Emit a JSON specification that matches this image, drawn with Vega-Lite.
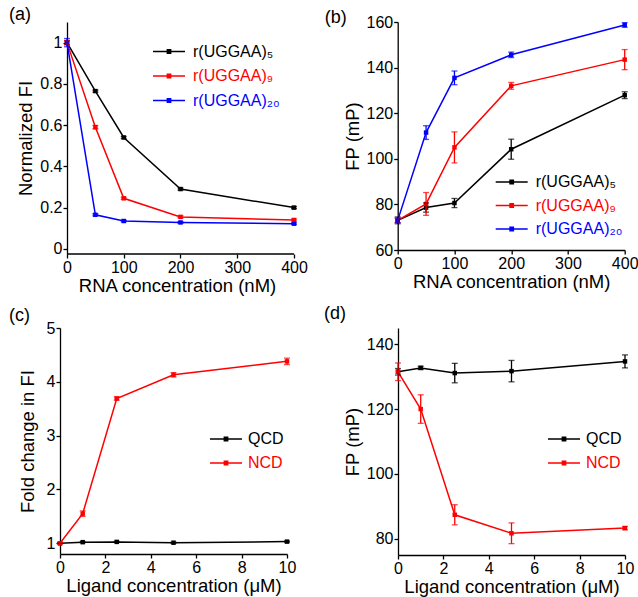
{
  "$schema": "https://vega.github.io/schema/vega-lite/v6.json",
  "padding": {"left": 9, "top": 5, "right": 5, "bottom": 5},
  "background": "white",
  "config": {
    "font": "Liberation Sans",
    "view": {"stroke": null},
    "axis": {
      "grid": false, "domainColor": "black", "domainWidth": 1.3, "tickColor": "black",
      "tickSize": 4, "tickWidth": 1.3, "labelPadding": 1, "labelFontSize": 16, "labelColor": "black",
      "labelFlush": false, "labelOverlap": false,
      "labelFont": "Liberation Sans", "titleFont": "Liberation Sans", "titleFontSize": 18.5,
      "titleFontWeight": "normal", "titleColor": "black"
    },
    "title": {"fontSize": 18, "fontWeight": "normal", "font": "Liberation Sans", "anchor": "start", "frame": "group", "color": "black"},
    "legend": {"labelFontSize": 16, "labelFont": "Liberation Sans", "padding": 0, "rowPadding": 8.5, "labelOffset": 17, "symbolSize": 64, "symbolStrokeWidth": 0,
      "symbolType": "M-4,-0.17H4V0.17H-4Z M-0.6,-0.6H0.6V0.6H-0.6Z"}
  },
  "datasets": {
    "a": [
      {"x": 0, "v": 1, "e": 0.01, "s": "r(UGGAA)₅"},
      {"x": 50, "v": 0.765, "e": 0.005, "s": "r(UGGAA)₅"},
      {"x": 100, "v": 0.54, "e": 0.005, "s": "r(UGGAA)₅"},
      {"x": 200, "v": 0.29, "e": 0.005, "s": "r(UGGAA)₅"},
      {"x": 400, "v": 0.2, "e": 0.005, "s": "r(UGGAA)₅"},
      {"x": 0, "v": 1, "e": 0.01, "s": "r(UGGAA)₉"},
      {"x": 50, "v": 0.59, "e": 0.008, "s": "r(UGGAA)₉"},
      {"x": 100, "v": 0.245, "e": 0.005, "s": "r(UGGAA)₉"},
      {"x": 200, "v": 0.155, "e": 0.005, "s": "r(UGGAA)₉"},
      {"x": 400, "v": 0.14, "e": 0.005, "s": "r(UGGAA)₉"},
      {"x": 0, "v": 1, "e": 0.02, "s": "r(UGGAA)₂₀"},
      {"x": 50, "v": 0.165, "e": 0.005, "s": "r(UGGAA)₂₀"},
      {"x": 100, "v": 0.135, "e": 0.004, "s": "r(UGGAA)₂₀"},
      {"x": 200, "v": 0.128, "e": 0.004, "s": "r(UGGAA)₂₀"},
      {"x": 400, "v": 0.122, "e": 0.004, "s": "r(UGGAA)₂₀"}
    ],
    "b": [
      {"x": 0, "v": 73, "e": 1.5, "s": "r(UGGAA)₅"},
      {"x": 50, "v": 78.6, "e": 2, "s": "r(UGGAA)₅"},
      {"x": 100, "v": 80.6, "e": 2, "s": "r(UGGAA)₅"},
      {"x": 200, "v": 104.2, "e": 4.4, "s": "r(UGGAA)₅"},
      {"x": 400, "v": 127.9, "e": 1.5, "s": "r(UGGAA)₅"},
      {"x": 0, "v": 73, "e": 1, "s": "r(UGGAA)₉"},
      {"x": 50, "v": 80.2, "e": 5, "s": "r(UGGAA)₉"},
      {"x": 100, "v": 105, "e": 6.8, "s": "r(UGGAA)₉"},
      {"x": 200, "v": 132, "e": 1.5, "s": "r(UGGAA)₉"},
      {"x": 400, "v": 143.5, "e": 4.4, "s": "r(UGGAA)₉"},
      {"x": 0, "v": 73, "e": 1, "s": "r(UGGAA)₂₀"},
      {"x": 50, "v": 111.5, "e": 3, "s": "r(UGGAA)₂₀"},
      {"x": 100, "v": 135.5, "e": 3, "s": "r(UGGAA)₂₀"},
      {"x": 200, "v": 145.6, "e": 1.2, "s": "r(UGGAA)₂₀"},
      {"x": 400, "v": 158.7, "e": 1, "s": "r(UGGAA)₂₀"}
    ],
    "c": [
      {"x": 0, "v": 1, "e": 0.005, "s": "QCD"},
      {"x": 1, "v": 1.02, "e": 0.01, "s": "QCD"},
      {"x": 2.5, "v": 1.025, "e": 0.01, "s": "QCD"},
      {"x": 5, "v": 1.01, "e": 0.01, "s": "QCD"},
      {"x": 10, "v": 1.03, "e": 0.01, "s": "QCD"},
      {"x": 0, "v": 1, "e": 0.01, "s": "NCD"},
      {"x": 1, "v": 1.55, "e": 0.05, "s": "NCD"},
      {"x": 2.5, "v": 3.69, "e": 0.03, "s": "NCD"},
      {"x": 5, "v": 4.13, "e": 0.04, "s": "NCD"},
      {"x": 10, "v": 4.38, "e": 0.06, "s": "NCD"}
    ],
    "d": [
      {"x": 0, "v": 131.5, "e": 1, "s": "QCD"},
      {"x": 1, "v": 132.7, "e": 0.5, "s": "QCD"},
      {"x": 2.5, "v": 131.1, "e": 3, "s": "QCD"},
      {"x": 5, "v": 131.7, "e": 3.3, "s": "QCD"},
      {"x": 10, "v": 134.7, "e": 2, "s": "QCD"},
      {"x": 0, "v": 131.5, "e": 2.7, "s": "NCD"},
      {"x": 1, "v": 120, "e": 4.4, "s": "NCD"},
      {"x": 2.5, "v": 87.4, "e": 3.1, "s": "NCD"},
      {"x": 5, "v": 81.7, "e": 3.2, "s": "NCD"},
      {"x": 10, "v": 83.3, "e": 0.5, "s": "NCD"}
    ]
  },
  "vconcat": [
    {
      "hconcat": [
        {
          "width": 234, "height": 232,
          "title": {"text": "(a)", "dx": -51, "offset": -1.5},
          "layer": [
            {
              "data": {"name": "a"},
              "encoding": {
                "x": {"field": "x", "type": "quantitative", "scale": {"domain": [-12.33, 400], "nice": false, "zero": false}, "axis": {"values": [0, 100, 200, 300, 400], "title": "RNA concentration (nM)", "titlePadding": 1, "domain": false}},
                "y": {"field": "v", "type": "quantitative", "scale": {"domain": [-0.025, 1.1], "nice": false, "zero": false}, "axis": {"values": [0, 0.2, 0.4, 0.6, 0.8, 1], "format": "~g", "title": "Normalized FI", "titlePadding": 4, "offset": -7}},
                "color": {"field": "s", "type": "nominal", "scale": {"domain": ["r(UGGAA)₅", "r(UGGAA)₉", "r(UGGAA)₂₀"], "range": ["#000000", "#ff0000", "#0000ff"]},
                  "legend": {"orient": "none", "legendX": 101, "legendY": 21.5, "title": null, "labelOffset": 16,
                    "encode": {
                      "labels": {"update": {"fill": [{"test": "indexof(datum.label,'₂₀')>=0", "value": "#0000ff"}, {"test": "indexof(datum.label,'₉')>=0", "value": "#ff0000"}, {"value": "#000000"}]}},
                      "symbols": {"update": {"fill": [{"test": "indexof(datum.label,'₂₀')>=0", "value": "#0000ff"}, {"test": "indexof(datum.label,'₉')>=0", "value": "#ff0000"}, {"value": "#000000"}], "stroke": {"value": "transparent"}}}
                    }}}
              },
              "layer": [
                {"mark": {"type": "line", "strokeWidth": 1.5}},
                {"mark": {"type": "point", "shape": "square", "filled": true, "size": 20, "opacity": 1}},
                {"mark": {"type": "errorbar", "ticks": {"size": 6}, "thickness": 1.3}, "encoding": {"yError": {"field": "e"}}}
              ]
            },
            {
              "data": {"values": [{"axis": "x"}]},
              "mark": {"type": "rule", "color": "black", "strokeWidth": 1.3},
              "encoding": {"x": {"datum": 0}, "x2": {"datum": 400}, "y": {"datum": -0.025}}
            }
          ]
        },
        {
          "width": 227, "height": 228,
          "title": {"text": "(b)", "dx": -73, "offset": -12.5},
          "data": {"name": "b"},
          "encoding": {
            "x": {"field": "x", "type": "quantitative", "scale": {"domain": [0, 400], "nice": false}, "axis": {"values": [0, 100, 200, 300, 400], "title": "RNA concentration (nM)", "titlePadding": 1}},
            "y": {"field": "v", "type": "quantitative", "scale": {"domain": [60, 160], "nice": false, "zero": false}, "axis": {"values": [60, 80, 100, 120, 140, 160], "title": "FP (mP)", "titlePadding": 4}},
            "color": {"field": "s", "type": "nominal", "scale": {"domain": ["r(UGGAA)₅", "r(UGGAA)₉", "r(UGGAA)₂₀"], "range": ["#000000", "#ff0000", "#0000ff"]},
              "legend": {"orient": "none", "legendX": 106, "legendY": 152, "title": null, "rowPadding": 7.5, "labelOffset": 16,
                "encode": {
                  "labels": {"update": {"fill": [{"test": "indexof(datum.label,'₂₀')>=0", "value": "#0000ff"}, {"test": "indexof(datum.label,'₉')>=0", "value": "#ff0000"}, {"value": "#000000"}]}},
                  "symbols": {"update": {"fill": [{"test": "indexof(datum.label,'₂₀')>=0", "value": "#0000ff"}, {"test": "indexof(datum.label,'₉')>=0", "value": "#ff0000"}, {"value": "#000000"}], "stroke": {"value": "transparent"}}}
                }}}
          },
          "layer": [
            {"mark": {"type": "line", "strokeWidth": 1.5}},
            {"mark": {"type": "point", "shape": "square", "filled": true, "size": 20, "opacity": 1}},
            {"mark": {"type": "errorbar", "ticks": {"size": 6}, "thickness": 1.3}, "encoding": {"yError": {"field": "e"}}}
          ]
        }
      ],
      "spacing": 16.7,
      "resolve": {"scale": {"color": "independent"}, "legend": {"color": "independent"}}
    },
    {
      "hconcat": [
        {
          "width": 227, "height": 226,
          "title": {"text": "(c)", "dx": -51, "offset": -5},
          "data": {"name": "c"},
          "encoding": {
            "x": {"field": "x", "type": "quantitative", "scale": {"domain": [0, 10], "nice": false}, "axis": {"values": [0, 2, 4, 6, 8, 10], "title": "Ligand concentration (μM)", "titlePadding": 1}},
            "y": {"field": "v", "type": "quantitative", "scale": {"domain": [0.8, 5], "nice": false, "zero": false}, "axis": {"values": [1, 2, 3, 4, 5], "title": "Fold change in FI", "titlePadding": 9}},
            "color": {"field": "s", "type": "nominal", "scale": {"domain": ["QCD", "NCD"], "range": ["#000000", "#ff0000"]},
              "legend": {"orient": "none", "legendX": 158, "legendY": 103, "title": null, "labelOffset": 14, "rowPadding": 8,
                "encode": {
                  "labels": {"update": {"fill": [{"test": "datum.label==='NCD'", "value": "#ff0000"}, {"value": "#000000"}]}},
                  "symbols": {"update": {"fill": [{"test": "datum.label==='NCD'", "value": "#ff0000"}, {"value": "#000000"}], "stroke": {"value": "transparent"}}}
                }}}
          },
          "layer": [
            {"mark": {"type": "line", "strokeWidth": 1.5}},
            {"mark": {"type": "point", "shape": "square", "filled": true, "size": 20, "opacity": 1}},
            {"mark": {"type": "errorbar", "ticks": {"size": 6}, "thickness": 1.3}, "encoding": {"yError": {"field": "e"}}}
          ]
        },
        {
          "width": 227, "height": 227,
          "title": {"text": "(d)", "dx": -74, "offset": 5},
          "data": {"name": "d"},
          "encoding": {
            "x": {"field": "x", "type": "quantitative", "scale": {"domain": [0, 10], "nice": false}, "axis": {"values": [0, 2, 4, 6, 8, 10], "title": "Ligand concentration (μM)", "titlePadding": 1}},
            "y": {"field": "v", "type": "quantitative", "scale": {"domain": [75, 145], "nice": false, "zero": false}, "axis": {"values": [80, 100, 120, 140], "title": "FP (mP)", "titlePadding": 4}},
            "color": {"field": "s", "type": "nominal", "scale": {"domain": ["QCD", "NCD"], "range": ["#000000", "#ff0000"]},
              "legend": {"orient": "none", "legendX": 158, "legendY": 103, "title": null, "labelOffset": 14, "rowPadding": 8,
                "encode": {
                  "labels": {"update": {"fill": [{"test": "datum.label==='NCD'", "value": "#ff0000"}, {"value": "#000000"}]}},
                  "symbols": {"update": {"fill": [{"test": "datum.label==='NCD'", "value": "#ff0000"}, {"value": "#000000"}], "stroke": {"value": "transparent"}}}
                }}}
          },
          "layer": [
            {"mark": {"type": "line", "strokeWidth": 1.5}},
            {"mark": {"type": "point", "shape": "square", "filled": true, "size": 20, "opacity": 1}},
            {"mark": {"type": "errorbar", "ticks": {"size": 6}, "thickness": 1.3}, "encoding": {"yError": {"field": "e"}}}
          ]
        }
      ],
      "spacing": 28,
      "resolve": {"scale": {"color": "independent"}, "legend": {"color": "independent"}}
    }
  ],
  "spacing": 10
}
